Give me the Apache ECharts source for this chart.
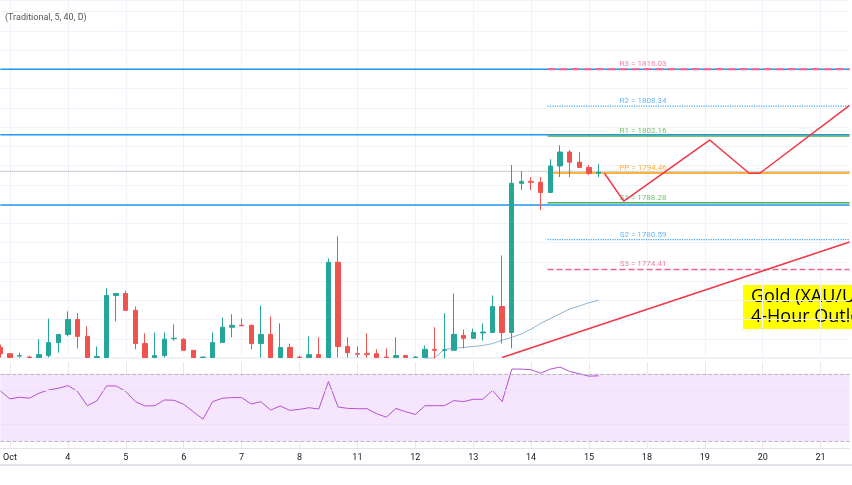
<!DOCTYPE html>
<html>
<head>
<meta charset="utf-8">
<script src="https://cdn.jsdelivr.net/npm/echarts@6/dist/echarts.min.js"></script>
<style>
  html, body { margin: 0; padding: 0; background: #fff; }
  #chart { width: 852px; height: 485px; }
</style>
</head>
<body>
<div id="chart"></div>
<script>
// 4-hour bars, [open, close, low, high]
var candles = [
  [1758.2, 1756.9, 1756.1, 1758.8], [1756.9, 1756.1, 1756.1, 1756.9], [1756.4, 1756.5, 1756.1, 1757.1],
  [1756.2, 1756.1, 1756.1, 1756.5], [1756.1, 1756.7, 1756.1, 1759.9], [1756.5, 1759.2, 1756.1, 1764.2],
  [1759.2, 1760.9, 1757.1, 1760.9], [1760.9, 1764.0, 1760.5, 1765.7], [1764.0, 1760.5, 1758.0, 1765.3],
  [1760.5, 1756.1, 1756.1, 1762.6], [1756.1, 1756.3, 1756.1, 1758.4], [1756.1, 1769.0, 1756.1, 1770.5],
  [1769.0, 1769.4, 1763.6, 1769.4], [1769.4, 1765.9, 1765.9, 1770.0], [1765.9, 1759.0, 1757.8, 1766.7],
  [1759.0, 1756.1, 1756.1, 1761.1], [1756.1, 1756.5, 1756.1, 1761.3], [1756.5, 1759.9, 1756.1, 1761.3],
  [1760.0, 1760.1, 1759.6, 1763.0], [1759.9, 1757.6, 1757.6, 1760.1], [1757.6, 1756.1, 1756.1, 1757.6],
  [1756.1, 1756.2, 1756.1, 1756.3], [1756.1, 1759.2, 1756.1, 1761.3], [1759.2, 1762.4, 1759.2, 1764.4],
  [1762.4, 1762.8, 1760.3, 1765.1], [1762.8, 1762.7, 1762.6, 1764.2], [1762.8, 1759.0, 1757.8, 1762.8],
  [1759.0, 1760.9, 1756.1, 1766.9], [1760.9, 1756.1, 1756.1, 1764.6], [1756.1, 1758.2, 1756.1, 1763.2],
  [1758.2, 1756.1, 1756.1, 1759.0], [1756.2, 1756.1, 1756.1, 1756.5], [1756.1, 1756.7, 1756.1, 1760.5],
  [1756.7, 1756.1, 1756.1, 1760.3], [1756.1, 1775.9, 1756.1, 1776.7], [1775.9, 1758.4, 1756.1, 1781.3],
  [1758.4, 1757.1, 1756.1, 1760.3], [1756.9, 1756.8, 1756.1, 1758.4], [1756.9, 1756.7, 1756.1, 1761.1],
  [1756.9, 1756.1, 1756.1, 1757.8], [1756.2, 1756.1, 1756.1, 1758.0], [1756.1, 1756.5, 1756.1, 1760.3],
  [1756.5, 1756.1, 1756.1, 1756.6], [1756.1, 1756.2, 1756.1, 1756.4],
  [1756.1, 1757.8, 1756.1, 1758.6], [1757.8, 1757.6, 1755.9, 1762.4],
  [1757.6, 1757.7, 1755.9, 1765.3], [1757.6, 1760.9, 1757.6, 1769.4], [1760.7, 1760.1, 1758.0, 1761.9],
  [1760.1, 1761.3, 1760.1, 1762.1], [1761.2, 1761.4, 1759.6, 1763.2], [1761.3, 1766.7, 1761.3, 1769.0],
  [1766.7, 1761.3, 1759.0, 1777.3], [1761.3, 1792.3, 1758.0, 1796.1], [1792.3, 1792.7, 1790.9, 1794.8],
  [1792.7, 1792.5, 1790.9, 1793.6], [1792.5, 1790.4, 1786.7, 1793.6], [1790.4, 1795.9, 1790.4, 1797.3],
  [1795.9, 1798.8, 1793.6, 1800.2], [1798.8, 1796.7, 1793.6, 1799.2], [1796.7, 1795.6, 1795.6, 1798.8],
  [1795.6, 1794.4, 1794.0, 1796.1], [1794.4, 1794.6, 1793.6, 1796.3]
];
var maStart = 44;
var maValues = [1755.9, 1756.0, 1757.8, 1758.0, 1758.2, 1758.4, 1758.6, 1759.0, 1759.7, 1760.3,
  1761.0, 1762.0, 1763.2, 1764.2, 1765.2, 1766.2, 1766.8, 1767.5, 1768.0];
var rsiValues = [59.9, 55.1, 56.1, 55.5, 58.5, 60.4, 61.4, 63.0, 59.5, 51.1, 53.9, 62.8, 62.8, 59.5, 53.5,
  50.9, 51.1, 54.5, 54.3, 51.9, 47.5, 43.1, 53.5, 55.5, 55.9, 55.9, 52.1, 53.5, 48.5, 50.9, 48.3,
  48.9, 49.9, 49.1, 65.4, 50.3, 49.5, 49.3, 49.3, 46.3, 44.3, 49.5, 47.5, 45.9, 51.1, 51.1, 51.1,
  54.1, 53.5, 54.9, 54.9, 60.2, 53.5, 72.8, 72.8, 72.4, 70.4, 72.8, 74.0, 71.4, 70.0, 68.6, 68.8];
var dayLabels = ['Oct', '4', '5', '6', '7', '8', '11', '12', '13', '14', '15', '18', '19', '20', '21'];
var pivotNames = ['R3', 'R2', 'R1', 'PP', 'S1', 'S2', 'S3'];
var pivotValues = [1816.03, 1808.34, 1802.16, 1794.46, 1788.28, 1780.59, 1774.41];
var pivotColors = ['#f06292', '#42a5f5', '#4caf50', '#ff9800', '#4caf50', '#42a5f5', '#f06292'];
var pivotTypes = ['dashed', 'dotted', 'solid', 'solid', 'solid', 'dotted', 'dashed'];
var pivotWidths = [2, 1.2, 1.5, 1.5, 1.5, 1.2, 1.5];
var levelLines = [1816.0, 1802.4, 1787.8];
var lastPrice = 1794.8;
var zigzag = [[62.6, 1794.4], [64.6, 1788.6], [73.5, 1801.3], [77.6, 1794.4], [78.7, 1794.4], [88, 1808.5]];
var trendLine = [[52, 1756.1], [88, 1780.1]];

var N = 89;
var cats = [];
for (var i = 0; i < N; i++) {
  var k = (i - 1) / 6;
  cats.push(i >= 1 && (i - 1) % 6 === 0 && dayLabels[k] ? dayLabels[k] : '');
}
function isDay(i) { return i >= 1 && (i - 1) % 6 === 0; }

var series = [
  {
    type: 'candlestick', xAxisIndex: 0, yAxisIndex: 0, data: candles, barMaxWidth: 7,
    itemStyle: { color: '#26a69a', color0: '#ef5350', borderColor: '#26a69a', borderColor0: '#ef5350' },
    z: 5
  },
  {
    type: 'line', xAxisIndex: 0, yAxisIndex: 0, symbol: 'none', z: 4,
    data: maValues.map(function (v, j) { return [maStart + j, v]; }),
    lineStyle: { color: '#90b4d0', width: 1 }
  },
  {
    type: 'line', xAxisIndex: 1, yAxisIndex: 1, symbol: 'none',
    data: rsiValues.map(function (v, j) { return [j, v]; }),
    lineStyle: { color: '#b452d0', width: 1 },
    markArea: { silent: true, itemStyle: { color: '#f5e6fd' }, data: [[{ yAxis: 30 }, { yAxis: 70 }]] },
    markLine: {
      silent: true, symbol: 'none', label: { show: false },
      data: [
        { yAxis: 70, lineStyle: { color: '#b8b8c0', type: 'dashed', width: 1 } },
        { yAxis: 30, lineStyle: { color: '#b8b8c0', type: 'dashed', width: 1 } },
        { yAxis: 60, lineStyle: { color: '#ece2f5', type: 'solid', width: 1 } },
        { yAxis: 40, lineStyle: { color: '#ece2f5', type: 'solid', width: 1 } }
      ]
    }
  },
  {
    type: 'line', xAxisIndex: 2, yAxisIndex: 0, symbol: 'none', z: 3,
    data: [[0, lastPrice], [88, lastPrice]],
    lineStyle: { color: '#9598a1', type: 'dotted', width: 1 }
  }
];
levelLines.forEach(function (v) {
  series.push({
    type: 'line', xAxisIndex: 2, yAxisIndex: 0, symbol: 'none', z: 3,
    data: [[0, v], [88, v]], lineStyle: { color: '#2196f3', width: 1.5 }
  });
});
pivotValues.forEach(function (v, j) {
  series.push({
    type: 'line', xAxisIndex: 2, yAxisIndex: 0, symbol: 'none', z: 4,
    data: [[56.7, v], [88, v]],
    lineStyle: { color: pivotColors[j], type: pivotTypes[j], width: pivotWidths[j] }
  });
  series.push({
    type: 'scatter', xAxisIndex: 2, yAxisIndex: 0, symbolSize: 0, z: 6,
    data: [[66.6, v]],
    label: {
      show: true, position: 'top', distance: 1, fontSize: 8, fontFamily: 'Roboto',
      color: pivotColors[j], formatter: pivotNames[j] + ' = ' + v.toFixed(2)
    }
  });
});
series.push({
  type: 'line', xAxisIndex: 2, yAxisIndex: 0, symbol: 'none', z: 7,
  data: zigzag, lineStyle: { color: '#f23645', width: 1.5 }
});
series.push({
  type: 'line', xAxisIndex: 2, yAxisIndex: 0, symbol: 'none', z: 7,
  data: trendLine, lineStyle: { color: '#f23645', width: 1.5 }
});

var chart = echarts.init(document.getElementById('chart'));
chart.setOption({
  animation: false,
  grid: [
    { left: 0.35, width: 849.2, top: 0, height: 358 },
    { left: 0.35, width: 849.2, top: 362, height: 86 }
  ],
  xAxis: [
    {
      type: 'category', gridIndex: 0, data: cats, boundaryGap: false,
      axisLine: { show: false }, axisTick: { show: false }, axisLabel: { show: false },
      splitLine: { show: true, interval: function (i) { return isDay(i); }, lineStyle: { color: '#f0f3fa' } }
    },
    {
      type: 'category', gridIndex: 1, data: cats, boundaryGap: false,
      axisLine: { show: true, lineStyle: { color: '#e0e3eb' } }, axisTick: { show: false },
      axisLabel: {
        interval: function (i) { return isDay(i); }, fontSize: 9, color: '#131722',
        fontFamily: 'Roboto', margin: 5
      },
      splitLine: { show: true, interval: function (i) { return isDay(i); }, lineStyle: { color: '#ece6f3' } }
    },
    { type: 'value', gridIndex: 0, min: 0, max: 88, show: false }
  ],
  yAxis: [
    {
      type: 'value', gridIndex: 0, min: 1756, max: 1830.4, interval: 4,
      axisLabel: { show: false }, axisLine: { show: false }, axisTick: { show: false },
      splitLine: { lineStyle: { color: '#f0f3fa' } }
    },
    {
      type: 'value', gridIndex: 1, min: 26, max: 77, show: false, splitLine: { show: false }
    }
  ],
  graphic: [
    { type: 'line', shape: { x1: 0, y1: 358, x2: 852, y2: 358 }, style: { stroke: '#e0e3eb', lineWidth: 1 } },
    { type: 'line', shape: { x1: 0, y1: 465, x2: 852, y2: 465 }, style: { stroke: '#e0e3eb', lineWidth: 2 } },
    {
      type: 'text', left: 5, top: 13, z: 30,
      style: { text: '(Traditional, 5, 40, D)', fontSize: 9, fill: '#555', fontFamily: 'Roboto', backgroundColor: '#fff' }
    },
    {
      type: 'group', left: 743, top: 285, z: 20,
      children: [
        { type: 'rect', shape: { x: 0, y: 0, width: 140, height: 44 }, style: { fill: '#ffff00' } },
        {
          type: 'text', x: 8, y: 2,
          style: { text: 'Gold (XAU/USD)\n4-Hour Outlook', fontSize: 18, lineHeight: 20, fill: '#000', fontFamily: 'Open Sans' }
        }
      ]
    }
  ],
  series: series
});
</script>
</body>
</html>
